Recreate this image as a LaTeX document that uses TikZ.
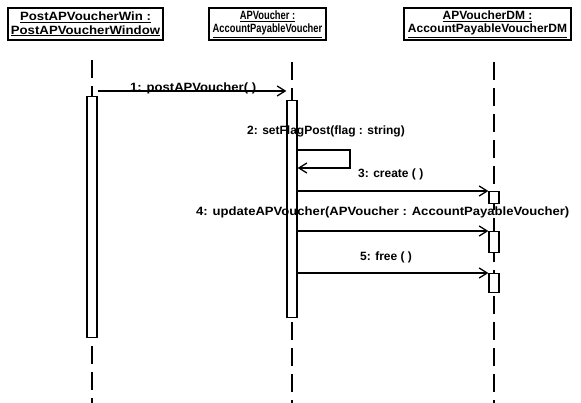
\documentclass[tikz,border=0pt]{standalone}
\usepackage{fontspec}
\usepackage{graphicx}
\setmainfont{Liberation Sans}
\usetikzlibrary{arrows.meta}
\newcommand{\hsq}[2]{\scalebox{#1}[1]{#2}}
\begin{document}
\begin{tikzpicture}[x=1pt,y=-1pt,
  obj/.style={draw, line width=1.3pt, minimum height=32pt, inner sep=0pt,
    align=center, font=\bfseries\fontsize{12}{13.5}\selectfont},
  life/.style={line width=1.2pt, dash pattern=on 18pt off 8pt},
  act/.style={draw, fill=white, line width=1.3pt, minimum width=10pt, inner sep=0pt},
  msg/.style={line width=1.3pt, -{Straight Barb[length=8pt,width=10pt]}},
  lbl/.style={font=\bfseries\fontsize{12}{13}\selectfont, inner sep=0pt, anchor=west}]
\useasboundingbox[fill=white] (0,0) rectangle (581,403);
% object headers
\node[obj, minimum width=155pt] (h1) at (85.5,24) {\hsq{1.1}{\underline{PostAPVoucherWin :}}\\\hsq{1.1}{\underline{PostAPVoucherWindow}}};
\node[obj, minimum width=117pt] (h2) at (267.5,24) {\hsq{0.78}{\underline{APVoucher :}}\\\hsq{0.78}{\underline{AccountPayableVoucher}}};
\node[obj, minimum width=167pt] (h3) at (487.5,24) {\underline{APVoucherDM :}\\\underline{AccountPayableVoucherDM}};
% lifelines
\coordinate (t1) at (92,60);  \coordinate (e1) at (92,403);
\coordinate (t2) at (292,62); \coordinate (e2) at (292,403);
\coordinate (t3) at (494,62); \coordinate (e3) at (494,403);
\draw[life] (t1) -- (e1);
\draw[life] (t2) -- (e2);
\draw[life] (t3) -- (e3);
% activations
\node[act, minimum height=241pt, anchor=north] (a1) at (92,96) {};
\node[act, minimum height=217pt, anchor=north] (a2) at (292,100) {};
\node[act, minimum height=12pt, anchor=north] (d1) at (494,191) {};
\node[act, minimum height=21pt, anchor=north] (d2) at (494,231) {};
\node[act, minimum height=19pt, anchor=north] (d3) at (494,273) {};
% message 1
\coordinate (m1s) at ([yshift=5pt]a1.north east);
\draw[msg] (m1s) -- (m1s -| a2.west);
\node[lbl] (l1) at (130,88) {\hsq{1.09}{1: postAPVoucher( )}};
% message 2 (self call)
\coordinate (s1) at (350,150);
\coordinate (s2) at (350,168);
\draw[msg] (s1 -| a2.east) -- (s1) -- (s2) -- (s2 -| a2.east);
\node[lbl] (l2) at (247,131) {2: setFlagPost(flag : string)};
% message 3
\draw[msg] (d1.north west -| a2.east) -- (d1.north west);
\node[lbl] (l3) at (358,174) {3: create ( )};
% message 4
\draw[msg] (d2.north west -| a2.east) -- (d2.north west);
\node[lbl] (l4) at (196,212) {\hsq{1.09}{4: updateAPVoucher(APVoucher : AccountPayableVoucher)}};
% message 5
\draw[msg] (d3.north west -| a2.east) -- (d3.north west);
\node[lbl] (l5) at (360,257) {5: free ( )};
\end{tikzpicture}
\end{document}
